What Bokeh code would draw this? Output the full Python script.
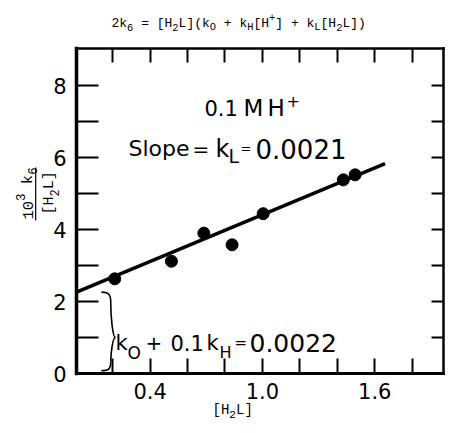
import math
from bokeh.plotting import figure
from bokeh.models import Range1d, LinearAxis, FixedTicker, Label, BoxAnnotation, PrintfTickFormatter
from bokeh.embed import file_html
from bokeh.resources import INLINE

# ---- data ----
h2l = [0.211, 0.514, 0.687, 0.838, 1.004, 1.432, 1.495]
ratio = [2.63, 3.12, 3.90, 3.575, 4.44, 5.38, 5.52]
fit_x = [0.007, 1.655]
fit_y = [2.26, 5.83]

x_major = [0.4, 1.0, 1.6]
x_minor = [0.2, 0.6, 0.8, 1.2, 1.4, 1.8]
x_top = [0.2, 0.4, 0.6, 0.8, 1.0, 1.2, 1.4, 1.6, 1.8]
y_major = [0, 2, 4, 6, 8]
y_minor = [1, 3, 5, 7]
y_right = [1, 2, 3, 4, 5, 6, 7, 8]

# plot box (data units)
X0, X1 = 0.007, 1.967
Y0, Y1 = 0.0, 9.03

brace_top = 2.26
brace_mid = 1.0
brace_bot = 0.08

MONO = "Liberation Mono"
SANS = "DejaVu Sans"

W, H = 452, 433
# page pixel position of the plot box: left 76, right 443, top 48, bottom 373
PXU = (443 - 76) / (X1 - X0)
PYU = (373 - 48) / (Y1 - Y0)
xr = Range1d(X0 - 76 / PXU, X1 + (W - 443) / PXU)
yr_ = Range1d(Y0 - (H - 373) / PYU, Y1 + 48 / PYU)

p = figure(width=W, height=H, x_range=xr, y_range=yr_,
           x_axis_type=None, y_axis_type=None, toolbar_location=None, output_backend="svg",
           min_border_left=0, min_border_right=0, min_border_top=0, min_border_bottom=0)
p.outline_line_color = None
p.background_fill_color = "white"
p.border_fill_color = "white"


def style_axis(ax, tick_len, line_w, font_size="20px", standoff=8):
    ax.axis_line_width = line_w
    ax.axis_line_color = "black"
    ax.axis_line_cap = "square"
    ax.major_tick_in = tick_len
    ax.major_tick_out = 0
    ax.minor_tick_in = tick_len
    ax.minor_tick_out = 0
    ax.major_tick_line_width = 2
    ax.minor_tick_line_width = 2
    ax.major_tick_line_color = "black"
    ax.minor_tick_line_color = "black"
    ax.major_label_text_font = SANS
    ax.major_label_text_font_size = font_size
    ax.major_label_text_color = "black"
    ax.major_label_standoff = standoff


xb = LinearAxis(ticker=FixedTicker(ticks=x_major, minor_ticks=x_minor), fixed_location=Y0, bounds=(X0, X1),
                formatter=PrintfTickFormatter(format="%.1f"))
style_axis(xb, 15, 3, "21px", 9)
p.add_layout(xb, "below")

# top and right frames carry only unlabeled ticks (drawn as minor ticks)
xt = LinearAxis(ticker=FixedTicker(ticks=[], minor_ticks=x_top), fixed_location=Y1, bounds=(X0, X1))
style_axis(xt, 14, 2.5)
p.add_layout(xt, "above")

yl = LinearAxis(ticker=FixedTicker(ticks=y_major, minor_ticks=y_minor), fixed_location=X0, bounds=(Y0, Y1),
                formatter=PrintfTickFormatter(format="%d"))
style_axis(yl, 22, 3.5, "21px", 10)
p.add_layout(yl, "left")

yr = LinearAxis(ticker=FixedTicker(ticks=[], minor_ticks=y_right), fixed_location=X1, bounds=(Y0, Y1))
style_axis(yr, 12, 2.5)
p.add_layout(yr, "right")

# fitted line and points
p.line(fit_x, fit_y, line_width=3.5, line_color="black")
p.scatter(h2l, ratio, size=12, fill_color="black", line_color="black")

# curly brace marking the intercept
bx_l, bx_s, bx_t = 0.14, 0.19, 0.215
p.bezier(x0=[bx_l, bx_s, bx_t, bx_s], y0=[brace_top, brace_top - 0.3, brace_mid, brace_bot + 0.25],
         x1=[bx_s, bx_t, bx_s, bx_l], y1=[brace_top - 0.3, brace_mid, brace_bot + 0.25, brace_bot],
         cx0=[bx_s - 0.005, bx_s, bx_s + 0.01, bx_s], cy0=[brace_top, brace_mid + 0.6, brace_mid, brace_bot + 0.05],
         cx1=[bx_s, bx_s + 0.01, bx_s, bx_s - 0.01], cy1=[brace_top - 0.1, brace_mid, brace_mid - 0.45, brace_bot],
         line_color="black", line_width=1.6)


def seq(parts, px, py, size, font=MONO, angle=0.0):
    """Place monospace text pieces (normal / sub / sup) from page pixel (px, py) on the baseline."""
    sx, sy = px, H - py
    for text, mode in parts:
        fs = size if mode == "n" else 0.8 * size
        off = 0.0 if mode == "n" else (-0.33 * size if mode == "b" else 0.42 * size)
        ch = 0.6 * fs
        core = text.strip(" ")
        lead = len(text) - len(text.lstrip(" "))
        if angle == 0.0:
            lab = Label(x=sx + lead * ch, y=sy + off, x_units="screen", y_units="screen", text=core)
        else:
            lab = Label(x=sx - off, y=sy + lead * ch, x_units="screen", y_units="screen", text=core, angle=angle)
        lab.text_font = font
        lab.text_font_size = f"{fs:.1f}px"
        lab.text_color = "black"
        lab.text_baseline = "alphabetic"
        lab.text_align = "left"
        p.add_layout(lab)
        if angle == 0.0:
            sx += len(text) * ch
        else:
            sy += len(text) * ch


title_parts = [("2k", "n"), ("6", "b"), (" = [H", "n"), ("2", "b"), ("L](k", "n"), ("O", "b"),
               (" + k", "n"), ("H", "b"), ("[H", "n"), ("+", "p"), ("] + k", "n"), ("L", "b"),
               ("[H", "n"), ("2", "b"), ("L])", "n")]
seq(title_parts, 111, 22.5, 13)

xlabel_parts = [("[H", "n"), ("2", "b"), ("L]", "n")]
seq(xlabel_parts, 212, 409, 14)

ynum_parts = [("10", "n"), ("3", "p"), (" k", "n"), ("6", "b")]
seq(ynum_parts, 27, 219, 15.5, angle=math.pi / 2)
yden_parts = [("[H", "n"), ("2", "b"), ("L]", "n")]
seq(yden_parts, 49, 214, 15, angle=math.pi / 2)
p.add_layout(BoxAnnotation(left=34.6, right=35.8, bottom=H - 220, top=H - 167,
                           left_units="screen", right_units="screen", bottom_units="screen", top_units="screen",
                           fill_color="black", fill_alpha=1.0, line_color=None))

# lettering inside the plot (page pixel positions of each piece's left end and baseline)
ann_text = ["0.1", "M", "H", "+",
            "Slope", "=", "k", "L", "=", "0.0021",
            "k", "O", "+", "0.1", "k", "H", "=", "0.0022"]
ann_px = [204, 243, 267, 286,
          128, 192, 215, 228, 240, 255,
          115, 127, 145, 170, 206, 219, 234, 249]
ann_py = [107, 107, 107, 100,
          148, 148, 148, 155, 148, 148,
          342, 352, 342, 342, 342, 352, 342, 342]
ann_fs = [21, 23, 23, 16,
          22, 20, 24, 19, 13, 26,
          21, 17, 20, 21, 21, 16, 15, 25]
for t, px, py, fs in zip(ann_text, ann_px, ann_py, ann_fs):
    p.add_layout(Label(x=px, y=H - py, x_units="screen", y_units="screen", text=t,
                       text_font=SANS, text_font_size=f"{fs}px", text_color="black",
                       text_baseline="alphabetic", text_align="left"))

open("out.html", "w").write(file_html(p, INLINE))
